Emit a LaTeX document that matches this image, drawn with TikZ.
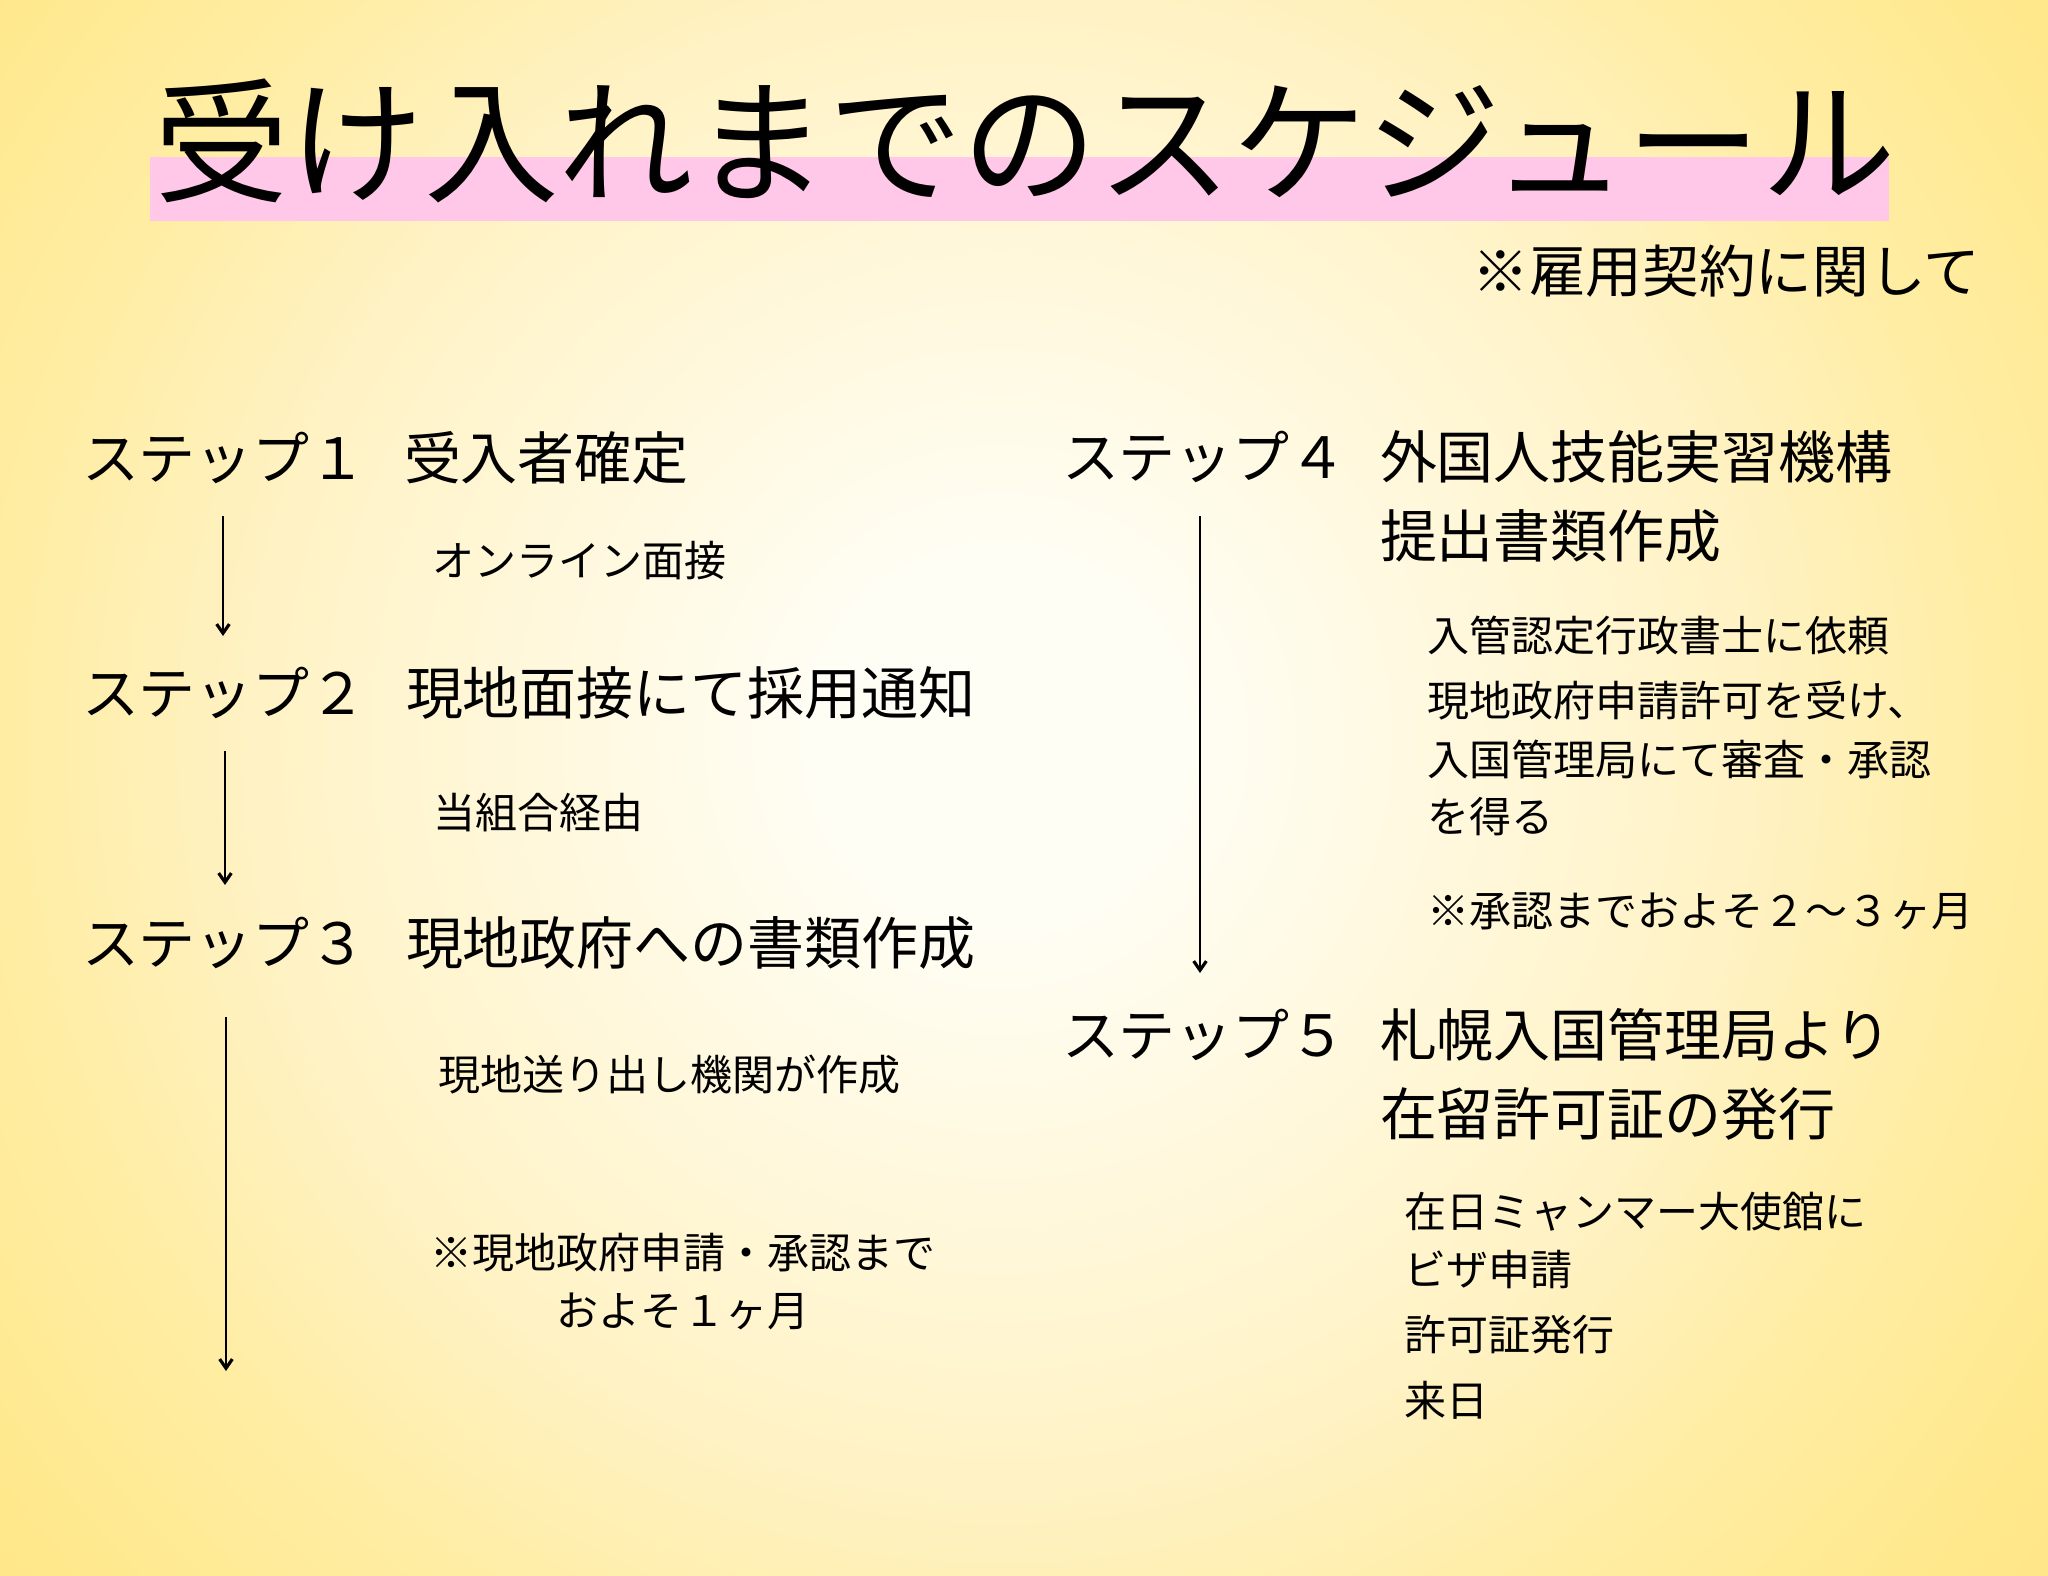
\documentclass[tikz,border=0pt]{standalone}
\usepackage{fontspec}
\setmainfont{Noto Sans CJK JP}
\usetikzlibrary{arrows.meta}
\definecolor{bgin}{HTML}{FFFEF5}
\definecolor{bgA}{HTML}{FFF2C4}
\definecolor{bgB}{HTML}{FFEDA3}
\definecolor{bgC}{HTML}{FFE88C}
\definecolor{bgD}{HTML}{FFE687}
\definecolor{band}{HTML}{FFC8E8}
\pgfdeclareradialshading{bgshade}{\pgfpoint{0bp}{0bp}}{color(0bp)=(bgin); color(50bp)=(bgin); color(212bp)=(bgA); color(283bp)=(bgB); color(353bp)=(bgC); color(390bp)=(bgD)}
\tikzset{
  head/.style={anchor=base west, inner sep=0pt, outer sep=0pt, font=\fontsize{16.2pt}{20pt}\selectfont},
  subtxt/.style={anchor=base west, inner sep=0pt, outer sep=0pt, font=\fontsize{11.95pt}{15pt}\selectfont},
  subc/.style={subtxt, anchor=base},
  flow/.style={line width=0.77pt, -{Straight Barb[length=2.6pt,width=3.6pt,line width=0.9pt]}}
}
\begin{document}
\begin{tikzpicture}[x=0.01cm,y=-0.01cm]
\useasboundingbox (0,0) rectangle (2048,1575);
\begin{scope}
  \clip (0,0) rectangle (2048,1575);
  \node[inner sep=0pt, outer sep=0pt] (bg) at (1000,740) {\pgfuseshading{bgshade}};
\end{scope}
% title
\fill[band] (150,157) rectangle (1889,221);
\node[anchor=base west, inner sep=0pt, font=\fontsize{38.3pt}{42pt}\selectfont] (title) at (154,192) {受け入れまでのスケジュール};
\node[anchor=base west, inner sep=0pt, font=\fontsize{16.1pt}{19pt}\selectfont] (note) at (1472,292) {※雇用契約に関して};
% left column
\node[head] (s1) at (82,479) {ステップ１};
\node[head] (h1) at (404,479) {受入者確定};
\node[subtxt] (t1) at (432,576) {オンライン面接};
\node[head] (s2) at (82,714) {ステップ２};
\node[head] (h2) at (406,714) {現地面接にて採用通知};
\node[subtxt] (t2) at (433,828) {当組合経由};
\node[head] (s3) at (82,964) {ステップ３};
\node[head] (h3) at (406,964) {現地政府への書類作成};
\node[subtxt] (t3) at (438,1090) {現地送り出し機関が作成};
\node[subc] (t4) at (683,1268) {※現地政府申請・承認まで};
\node[subc] (t5) at (683,1326) {およそ１ヶ月};
% right column
\node[head] (s4) at (1062,478) {ステップ４};
\node[head] (h4a) at (1380,478) {外国人技能実習機構};
\node[head] (h4b) at (1380,557) {提出書類作成};
\node[subtxt] (r1) at (1427,651) {入管認定行政書士に依頼};
\node[subtxt] (r2) at (1427,716) {現地政府申請許可を受け、};
\node[subtxt] (r3) at (1427,775) {入国管理局にて審査・承認};
\node[subtxt] (r4) at (1427,832) {を得る};
\node[subtxt] (r5) at (1427,926) {※承認までおよそ２～３ヶ月};
\node[head] (s5) at (1062,1056) {ステップ５};
\node[head] (h5a) at (1380,1056) {札幌入国管理局より};
\node[head] (h5b) at (1380,1135) {在留許可証の発行};
\node[subtxt] (q1) at (1404,1227) {在日ミャンマー大使館に};
\node[subtxt] (q2) at (1404,1285) {ビザ申請};
\node[subtxt] (q3) at (1404,1350) {許可証発行};
\node[subtxt] (q4) at (1404,1416) {来日};
% arrows
\coordinate (a1s) at (223,516); \coordinate (a1e) at (223,636);
\coordinate (a2s) at (225,751); \coordinate (a2e) at (225,885);
\coordinate (a3s) at (226,1017); \coordinate (a3e) at (226,1371);
\coordinate (a4s) at (1200,516); \coordinate (a4e) at (1200,973);
\draw[flow] (a1s) -- (a1e);
\draw[flow] (a2s) -- (a2e);
\draw[flow] (a3s) -- (a3e);
\draw[flow] (a4s) -- (a4e);
\end{tikzpicture}
\end{document}
